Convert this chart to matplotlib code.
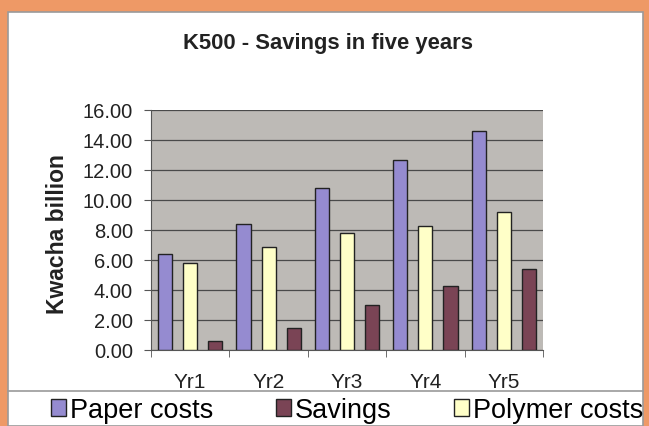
import numpy as np
import matplotlib
matplotlib.use("Agg")
import matplotlib.pyplot as plt
from matplotlib.patches import Rectangle
from matplotlib.lines import Line2D

plt.rcParams['font.family'] = ['Liberation Sans', 'DejaVu Sans']

# data (Kwacha billion)
years = ['Yr1', 'Yr2', 'Yr3', 'Yr4', 'Yr5']
paper_costs = [6.4, 8.4, 10.8, 12.7, 14.6]
polymer_costs = [5.8, 6.9, 7.8, 8.3, 9.2]
savings = [0.6, 1.5, 3.0, 4.3, 5.4]

W, H = 649, 427
fig = plt.figure(figsize=(W / 100, H / 100), dpi=100, facecolor='#EE9966')

# white chart panel
panel = Rectangle((8 / W, 0), 635 / W, 1 - 13 / H, transform=fig.transFigure,
                  facecolor='white', edgecolor='#9a9a9a', linewidth=1.2, zorder=-5)
fig.patches.append(panel)

ax = fig.add_axes([151 / W, 1 - 351 / H, 392 / W, 240 / H])
ax.set_zorder(2)
ax.set_facecolor('#BDBAB6')

x = np.arange(len(years))
off = 0.32
bw = 0.18
ax.bar(x - off, paper_costs, bw, color='#958BD0', edgecolor='#222222', linewidth=1, label='Paper costs', zorder=3)
ax.bar(x + off, savings, bw, color='#7A4455', edgecolor='#222222', linewidth=1, label='Savings', zorder=3)
ax.bar(x, polymer_costs, bw, color='#FFFFC8', edgecolor='#222222', linewidth=1, label='Polymer costs', zorder=3)

ax.set_xlim(-0.5, 4.5)
ax.set_ylim(0, 16)
ax.set_yticks(np.arange(0, 17, 2))
ax.set_yticklabels(['%.2f' % v for v in np.arange(0, 17, 2)], fontsize=14.5, color='#222222')
ax.yaxis.grid(True, color='#4a4a4a', linewidth=0.9, zorder=1)
ax.set_axisbelow(True)

ax.set_xticks(x)
ax.set_xticklabels(years, fontsize=15, color='#222222')
ax.tick_params(axis='x', which='major', length=0, pad=16)
ax.set_xticks(np.arange(-0.5, 5, 1), minor=True)
ax.tick_params(axis='x', which='minor', length=5, color='#555555')
ax.tick_params(axis='y', length=5, color='#555555', pad=8)

for s in ['top', 'right']:
    ax.spines[s].set_visible(False)
ax.spines['left'].set_color('#555555')
ax.spines['bottom'].set_color('#555555')

fig.text(328 / W, 1 - 43 / H, 'K500 - Savings in five years', ha='center', va='center',
         fontsize=15.8, fontweight='bold', color='#222222')
fig.text(58 / W, 1 - 234 / H, 'Kwacha billion', ha='center', va='center', rotation=90,
         fontsize=16.5, fontweight='bold', color='#222222')

# separator line above legend
fig.lines.append(Line2D([8 / W, 643 / W], [1 - 392 / H, 1 - 392 / H],
                        transform=fig.transFigure, color='#9a9a9a', linewidth=1.2))

handles, labels = ax.get_legend_handles_labels()
fig.legend(handles, labels, loc='center', bbox_to_anchor=(347 / W, 1 - 411 / H), ncol=3,
           frameon=False, fontsize=19.5, handlelength=0.55, handleheight=0.55,
           handletextpad=0.15, columnspacing=2.3, borderpad=0, borderaxespad=0)

fig.savefig('out.png', dpi=100, facecolor=fig.get_facecolor())
